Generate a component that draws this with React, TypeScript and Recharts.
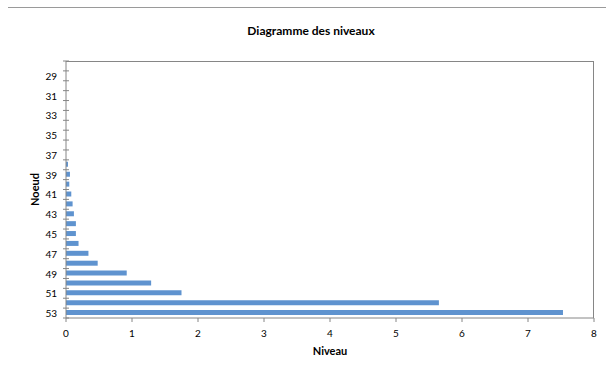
import React from 'react';
import { BarChart, Bar, XAxis, YAxis, Label } from 'recharts';

// Noeud (du haut vers le bas) et niveaux
const nodes = [
  '28', '29', '30', '31', '32', '33', '34', '35', '36', '37', '38', '39', '40',
  '41', '42', '43', '44', '45', '46', '47', '48', '49', '50', '51', '52', '53',
];
const levels = [
  0, 0, 0, 0, 0, 0, 0, 0, 0, 0, 0.03, 0.06, 0.05,
  0.08, 0.1, 0.12, 0.15, 0.15, 0.19, 0.34, 0.48, 0.92, 1.29, 1.75, 5.65, 7.53,
];
const levelTicks = [0, 1, 2, 3, 4, 5, 6, 7, 8];

const data = nodes.map((n, i) => ({ node: n, niveau: levels[i] }));

const W = 606;
const H = 378;
const PLOT_TOP = 61;
const PLOT_BOTTOM = 318;
const PLOT_LEFT = 66;
const PLOT_RIGHT = 594;
const BAND = (PLOT_BOTTOM - PLOT_TOP) / nodes.length;
const AXIS_GREY = '#868686';
const FONT = 'Lato, "Open Sans", sans-serif';

const NodeTick = (props: any) => {
  const { x, y, payload, index } = props;
  const axisX = x + 9;
  const showLabel = Number(payload.value) % 2 === 1;
  return (
    <g>
      <line x1={axisX - 3} x2={axisX + 3} y1={y + BAND / 2} y2={y + BAND / 2} stroke={AXIS_GREY} />
      {index === 0 && (
        <line x1={axisX - 3} x2={axisX + 3} y1={y - BAND / 2} y2={y - BAND / 2} stroke={AXIS_GREY} />
      )}
      {showLabel && (
        <text x={x} y={y} dy={4} textAnchor="end" fontSize={10} fill="#000" fontFamily={FONT}>
          {payload.value}
        </text>
      )}
    </g>
  );
};

export default function App() {
  return (
    <div style={{ position: 'absolute', left: 0, top: 0, width: W, height: H, background: '#fff', fontFamily: FONT }}>
      <div style={{ position: 'absolute', left: 8, top: 7, right: 0, borderTop: '1px solid #9a9a9a' }} />
      <div
        style={{
          position: 'absolute', left: 8, right: -8, top: 23, textAlign: 'center',
          fontSize: 12, fontWeight: 'bold', color: '#000',
        }}
      >
        Diagramme des niveaux
      </div>
      <BarChart
        width={W}
        height={H}
        data={data}
        layout="vertical"
        margin={{ top: PLOT_TOP, right: W - PLOT_RIGHT, bottom: 30, left: 0 }}
        barSize={5}
      >
        <XAxis
          type="number"
          domain={[0, 8]}
          ticks={levelTicks}
          interval={0}
          height={H - PLOT_BOTTOM - 30}
          stroke={AXIS_GREY}
          tickSize={4}
          tickMargin={8}
          tick={{ fontSize: 10, fill: '#000', fontFamily: FONT }}
        >
          <Label value="Niveau" position="insideBottom" offset={-7} style={{ fontSize: 11, fontWeight: 'bold', fill: '#000', fontFamily: FONT }} />
        </XAxis>
        <YAxis
          type="category"
          dataKey="node"
          width={PLOT_LEFT}
          interval={0}
          stroke={AXIS_GREY}
          tickLine={false}
          tickSize={0}
          tickMargin={9}
          tick={<NodeTick />}
        >
          <Label
            value="Noeud"
            angle={-90}
            position="insideLeft"
            offset={35}
            style={{ fontSize: 11, fontWeight: 'bold', fill: '#000', fontFamily: FONT, textAnchor: 'middle' }}
          />
        </YAxis>
        <Bar dataKey="niveau" fill="#5f93cf" isAnimationActive={false} />
      </BarChart>
      <div
        style={{
          position: 'absolute', left: PLOT_LEFT, top: PLOT_TOP, width: PLOT_RIGHT - PLOT_LEFT,
          height: PLOT_BOTTOM - PLOT_TOP, borderTop: `1px solid ${AXIS_GREY}`, borderRight: `1px solid ${AXIS_GREY}`,
          boxSizing: 'border-box', pointerEvents: 'none',
        }}
      />
    </div>
  );
}
